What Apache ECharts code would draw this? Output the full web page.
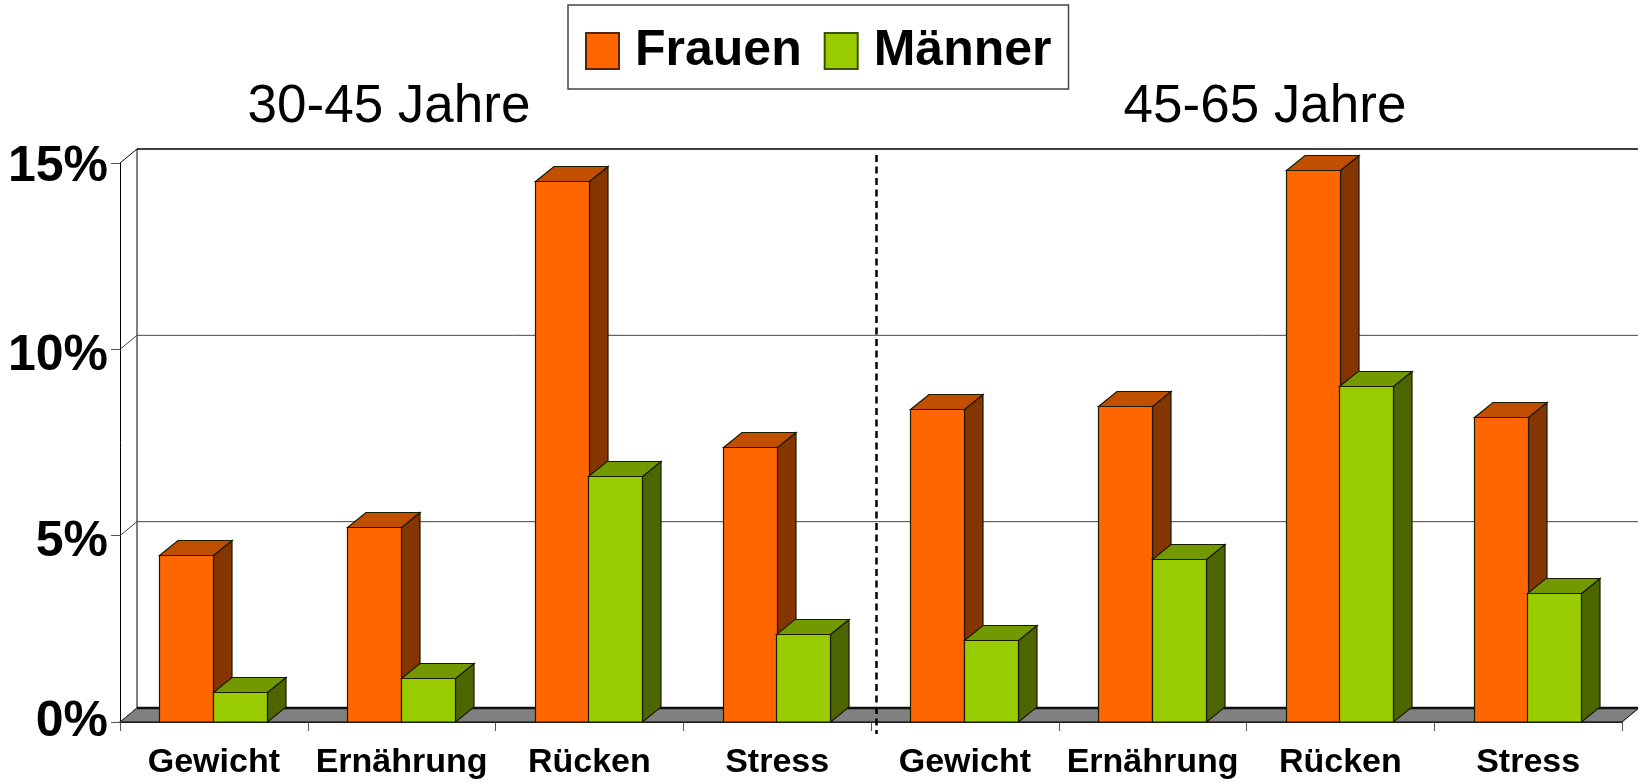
<!DOCTYPE html>
<html>
<head>
<meta charset="utf-8">
<style>html,body{margin:0;padding:0;background:#fff}#c{width:1638px;height:784px}</style>
<script src="https://cdn.jsdelivr.net/npm/echarts@6/dist/echarts.min.js"></script>
</head>
<body>
<div id="c"></div>
<script>
const categories = ['Gewicht','Ernährung','Rücken','Stress','Gewicht','Ernährung','Rücken','Stress'];
const frauen = [4.49,5.22,14.52,7.39,8.41,8.47,14.82,8.19];
const maenner = [0.8,1.17,6.6,2.37,2.2,4.37,9.02,3.47];
const wallTicks = [0,5,10,15];
const groupTitles = ['30-45 Jahre','45-65 Jahre'];

const FONT = '"Liberation Sans", Arial, sans-serif';
const WALL_DX = 17, WALL_DY = 14, BAR_DX = 18.5, BAR_DY = 15;

function pts(a){return {points:a};}

function renderWalls(params, api){
  const cs = params.coordSys;
  const l = cs.x, r = cs.x + cs.width, b = cs.y + cs.height, t = cs.y;
  const end = api.getWidth() + 5;
  const kids = [];
  kids.push({type:'polygon',shape:pts([[l,b],[l+WALL_DX,b-WALL_DY],[r+WALL_DX,b-WALL_DY],[r,b]]),
    style:{fill:'#808080',stroke:'#000',lineWidth:1}});
  kids.push({type:'line',shape:{x1:l+WALL_DX,y1:b-WALL_DY,x2:end,y2:b-WALL_DY},style:{stroke:'#111',lineWidth:2.5}});
  kids.push({type:'line',shape:{x1:l+WALL_DX,y1:t-WALL_DY,x2:l+WALL_DX,y2:b-WALL_DY},style:{stroke:'#000',lineWidth:1}});
  wallTicks.forEach(v=>{
    const y = api.coord([0,v])[1];
    kids.push({type:'line',shape:{x1:l,y1:y,x2:l+WALL_DX,y2:y-WALL_DY},style:{stroke:v===15?'#000':'#444',lineWidth:1}});
    if(v>0) kids.push({type:'line',shape:{x1:l+WALL_DX,y1:y-WALL_DY,x2:end,y2:y-WALL_DY},
      style:{stroke:v===15?'#000':'#444',lineWidth:v===15?1.5:1}});
  });
  const band = api.size([1,0])[0];
  const sepX = Math.round(api.coord([3,0])[0] + band/2 + 5) + 0.5;
  kids.push({type:'line',shape:{x1:sepX,y1:t-8,x2:sepX,y2:b+12},style:{stroke:'#000',lineWidth:2.5,lineDash:[7,4.5]}});
  return {type:'group',silent:true,children:kids};
}

function barRenderer(side, front, top, dark){
  return function(params, api){
    const band = api.size([1,0])[0];
    const w = band*0.285;
    const p = api.coord([api.value(0),api.value(1)]);
    const base = api.coord([api.value(0),0])[1];
    const x0 = Math.round(side<0 ? p[0]-w : p[0]) - 0.5;
    const x1 = x0 + Math.round(w);
    const y = Math.round(p[1]) + 0.5;
    const s = {stroke:'#1a1a00',lineWidth:1.2};
    return {type:'group',children:[
      {type:'polygon',shape:pts([[x1,y],[x1+BAR_DX,y-BAR_DY],[x1+BAR_DX,base-BAR_DY],[x1,base]]),style:{fill:dark,...s}},
      {type:'polygon',shape:pts([[x0,y],[x0+BAR_DX,y-BAR_DY],[x1+BAR_DX,y-BAR_DY],[x1,y]]),style:{fill:top,...s}},
      {type:'rect',shape:{x:x0,y:y,width:x1-x0,height:base-y},style:{fill:front,...s}}
    ]};
  };
}

const labelStyle = {fontFamily:FONT,fontSize:50,fontWeight:'bold',color:'#000'};
const chart = echarts.init(document.getElementById('c'),null,{renderer:'canvas'});
chart.setOption({
  animation:false,
  backgroundColor:'#fff',
  title:[
    {text:groupTitles[0],left:384,top:76,textAlign:'center',textStyle:{fontFamily:FONT,fontSize:53,fontWeight:'normal',color:'#000'}},
    {text:groupTitles[1],left:1260,top:76,textAlign:'center',textStyle:{fontFamily:FONT,fontSize:53,fontWeight:'normal',color:'#000'}}
  ],
  legend:{
    data:['Frauen','Männer'],
    left:568,top:5,
    orient:'horizontal',
    padding:[21,17,13,17],
    itemWidth:33,itemHeight:36,itemGap:22,
    borderColor:'#444',borderWidth:1.5,backgroundColor:'#fff',
    icon:'rect',
    textStyle:{fontFamily:FONT,fontSize:50,fontWeight:'bold',color:'#000',padding:[0,0,0,11]},
    selectedMode:false
  },
  grid:{left:120,right:16,top:163,bottom:62,containLabel:false},
  xAxis:{
    type:'category',data:categories,
    axisLine:{show:true,onZero:false,lineStyle:{color:'#000',width:1.5}},
    axisTick:{show:true,length:9,alignWithLabel:false,lineStyle:{color:'#555',width:1}},
    axisLabel:{interval:0,margin:24,hideOverlap:false,fontFamily:FONT,fontSize:34,fontWeight:'bold',color:'#000'},
    splitLine:{show:false}
  },
  yAxis:{
    type:'value',min:0,max:15,interval:5,
    axisLine:{show:true,lineStyle:{color:'#000',width:1}},
    axisTick:{show:true,length:9,lineStyle:{color:'#555',width:1}},
    axisLabel:{margin:12,...labelStyle,
      formatter:v => (v===5||v===10) ? '{low|'+v+'%}' : (v===15 ? '{mid|'+v+'%}' : '{base|'+v+'%}'),
      rich:{
        base:{...labelStyle},
        mid:{...labelStyle,padding:[8,0,0,0]},
        low:{...labelStyle,padding:[14,0,0,0]}
      }
    },
    splitLine:{show:false}
  },
  series:[
    {type:'custom',name:'walls',silent:true,z:1,data:[[0,0]],renderItem:renderWalls,tooltip:{show:false}},
    {type:'custom',name:'Frauen',z:3,itemStyle:{color:'#FF6600',borderColor:'#5a2400',borderWidth:1},
      encode:{x:0,y:1},data:frauen.map((v,i)=>[i,v]),renderItem:barRenderer(-1,'#FF6600','#C05000','#843500')},
    {type:'custom',name:'Männer',z:4,itemStyle:{color:'#99CC00',borderColor:'#3d5200',borderWidth:1},
      encode:{x:0,y:1},data:maenner.map((v,i)=>[i,v]),renderItem:barRenderer(1,'#99CC00','#739900','#4D6600')}
  ]
});
</script>
</body>
</html>
